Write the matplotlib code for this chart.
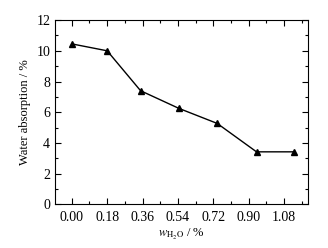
import matplotlib
matplotlib.use("Agg")
from matplotlib import pyplot as plt
from matplotlib.ticker import MultipleLocator

plt.rcParams['font.family'] = ['Liberation Serif', 'DejaVu Serif']
plt.rcParams['mathtext.fontset'] = 'stix'

# data
water_content = [0.00, 0.18, 0.35, 0.545, 0.74, 0.94, 1.13]
absorption = [10.45, 10.0, 7.4, 6.25, 5.27, 3.42, 3.42]
x_ticks = [0.00, 0.18, 0.36, 0.54, 0.72, 0.90, 1.08]
x_labels = ['0.00', '0.18', '0.36', '0.54', '0.72', '0.90', '1.08']

fig = plt.figure(figsize=(3.28, 2.48), dpi=100)
ax = fig.add_axes([0.168, 0.176, 0.771, 0.743])

ax.plot(water_content, absorption, color='k', linewidth=1, marker='^', markersize=4)

ax.set_xlim(-0.085, 1.202)
ax.set_ylim(0, 12)
ax.set_xticks(x_ticks)
ax.set_xticklabels(x_labels)
ax.xaxis.set_minor_locator(MultipleLocator(0.09))
ax.yaxis.set_major_locator(MultipleLocator(2))
ax.yaxis.set_minor_locator(MultipleLocator(1))
ax.tick_params(which='both', direction='in', top=True, right=True, labelsize=10)
ax.tick_params(which='major', length=4, width=0.8)
ax.tick_params(which='minor', length=2, width=0.8)
ax.tick_params(axis='x', pad=5)

ax.set_ylabel('Water absorption / %', fontsize=9)
ax.set_xlabel(r'$w_{\mathrm{H_2O}}$ / %', fontsize=9, labelpad=2)

plt.savefig('out.png', dpi=100)
